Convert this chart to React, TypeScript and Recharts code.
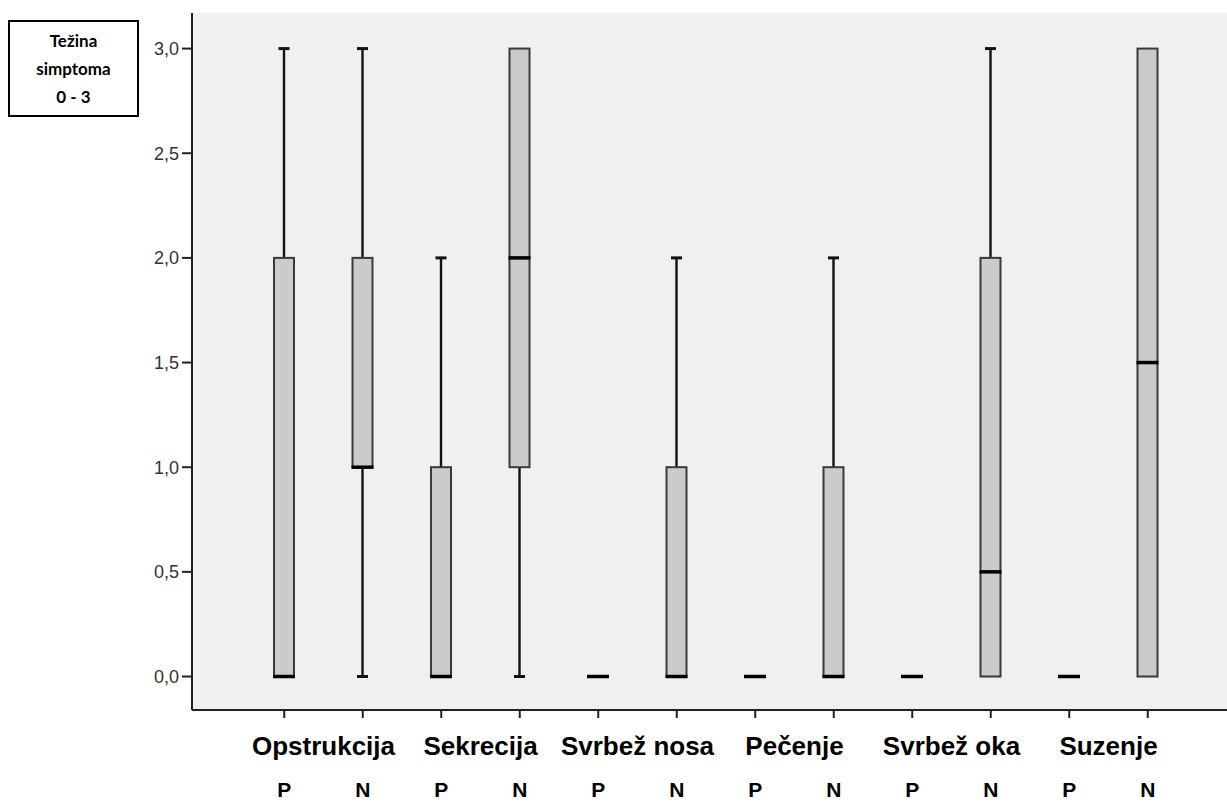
import { ComposedChart, Bar, XAxis, YAxis, CartesianGrid } from 'recharts';

// symptom groups, each with P and N arm
const groups = ['Opstrukcija', 'Sekrecija', 'Svrbež nosa', 'Pečenje', 'Svrbež oka', 'Suzenje'];
const arms = ['P', 'N'];

// box plot stats, in order: Opstrukcija P, Opstrukcija N, Sekrecija P, ...
const mins = [0, 0, 0, 0, 0, 0, 0, 0, 0, 0, 0, 0];
const q1s = [0, 1, 0, 1, 0, 0, 0, 0, 0, 0, 0, 0];
const medians = [0, 1, 0, 2, 0, 0, 0, 0, 0, 0.5, 0, 1.5];
const q3s = [2, 2, 1, 3, 0, 1, 0, 1, 0, 2, 0, 3];
const maxs = [3, 3, 2, 3, 0, 2, 0, 2, 0, 3, 0, 3];

const yTicks = [0, 0.5, 1, 1.5, 2, 2.5, 3];
const titleLines = ['Težina', 'simptoma', '0 - 3'];

const data = groups.flatMap((g, gi) =>
  arms.map((a, ai) => {
    const i = gi * 2 + ai;
    return {
      key: `${g} ${a}`, group: g, arm: a,
      min: mins[i], q1: q1s[i], median: medians[i], q3: q3s[i], max: maxs[i],
      range: [mins[i], maxs[i]],
    };
  })
);

const BoxShape = (props: any) => {
  const { x, y, width, height, payload } = props;
  const top = Math.min(y, y + height);
  const bottom = Math.max(y, y + height);
  const { min, q1, median, q3, max } = payload;
  const span = max - min;
  const toY = (v: number) => (span === 0 ? top : bottom - ((v - min) / span) * (bottom - top));
  const cx = x + width / 2;
  const capW = 11;
  return (
    <g>
      {max > q3 && (
        <g>
          <line x1={cx} x2={cx} y1={toY(q3)} y2={toY(max)} stroke="#111" strokeWidth={2.4} />
          <line x1={cx - capW / 2} x2={cx + capW / 2} y1={toY(max)} y2={toY(max)} stroke="#111" strokeWidth={3} />
        </g>
      )}
      {min < q1 && (
        <g>
          <line x1={cx} x2={cx} y1={toY(q1)} y2={toY(min)} stroke="#111" strokeWidth={2.4} />
          <line x1={cx - capW / 2} x2={cx + capW / 2} y1={toY(min)} y2={toY(min)} stroke="#111" strokeWidth={3} />
        </g>
      )}
      {q3 > q1 && (
        <rect x={x + 1} y={toY(q3)} width={width - 2} height={toY(q1) - toY(q3)}
          fill="#cbcbcb" stroke="#3a3a3a" strokeWidth={2} />
      )}
      <line x1={x} x2={x + width} y1={toY(median)} y2={toY(median)} stroke="#000" strokeWidth={3.5} />
    </g>
  );
};

const GroupTick = (props: any) => {
  const { x, y, payload, index } = props;
  const row = data[index];
  const half = payload.offset || 0;
  return (
    <g fontFamily="'Liberation Sans', Arial, sans-serif" fontWeight="bold" fill="#000">
      <text x={x} y={y + 77} textAnchor="middle" fontSize={21}>{row.arm}</text>
      {row.arm === 'P' && (
        <text x={x + half} y={y + 35} textAnchor="middle" fontSize={26}>{row.group}</text>
      )}
    </g>
  );
};

export default function App() {
  return (
    <div style={{ position: 'absolute', left: 0, top: 0, width: 1227, height: 803, overflow: 'hidden', background: '#fff' }}>
      <ComposedChart width={1240} height={803} data={data} margin={{ top: 13, right: 0, bottom: 0, left: 0 }}>
        <CartesianGrid fill="#f0f0f0" horizontal={false} vertical={false} />
        <XAxis dataKey="key" height={93} padding={{ left: 53, right: 53 }} interval={0}
          tickSize={8} tickMargin={2} tickLine={{ stroke: '#222', strokeWidth: 2 }}
          axisLine={{ stroke: '#222', strokeWidth: 2 }} tick={<GroupTick />} />
        <XAxis xAxisId="top" dataKey="key" orientation="top" height={0} tick={false} tickLine={false}
          axisLine={{ stroke: '#222', strokeWidth: 2 }} />
        <YAxis type="number" domain={[-0.16, 3.17]} ticks={yTicks} width={192} allowDataOverflow
          tickSize={10} tickMargin={3} tickLine={{ stroke: '#222', strokeWidth: 2 }}
          axisLine={{ stroke: '#222', strokeWidth: 2 }}
          tickFormatter={(v: number) => v.toFixed(1).replace('.', ',')}
          tick={{ fill: '#333', fontSize: 18, fontFamily: "'Liberation Sans', Arial, sans-serif" }} />
        <Bar dataKey="range" barSize={22} shape={<BoxShape />} isAnimationActive={false} />
      </ComposedChart>
      <div style={{
        position: 'absolute', left: 8, top: 20, width: 127, height: 93, border: '2px solid #000',
        background: '#fff', display: 'flex', flexDirection: 'column', justifyContent: 'center', alignItems: 'center',
        fontFamily: 'Lato, sans-serif', fontWeight: 'bold', fontSize: 17, lineHeight: '28px', color: '#000',
      }}>
        {titleLines.map(t => <div key={t}>{t}</div>)}
      </div>
    </div>
  );
}
